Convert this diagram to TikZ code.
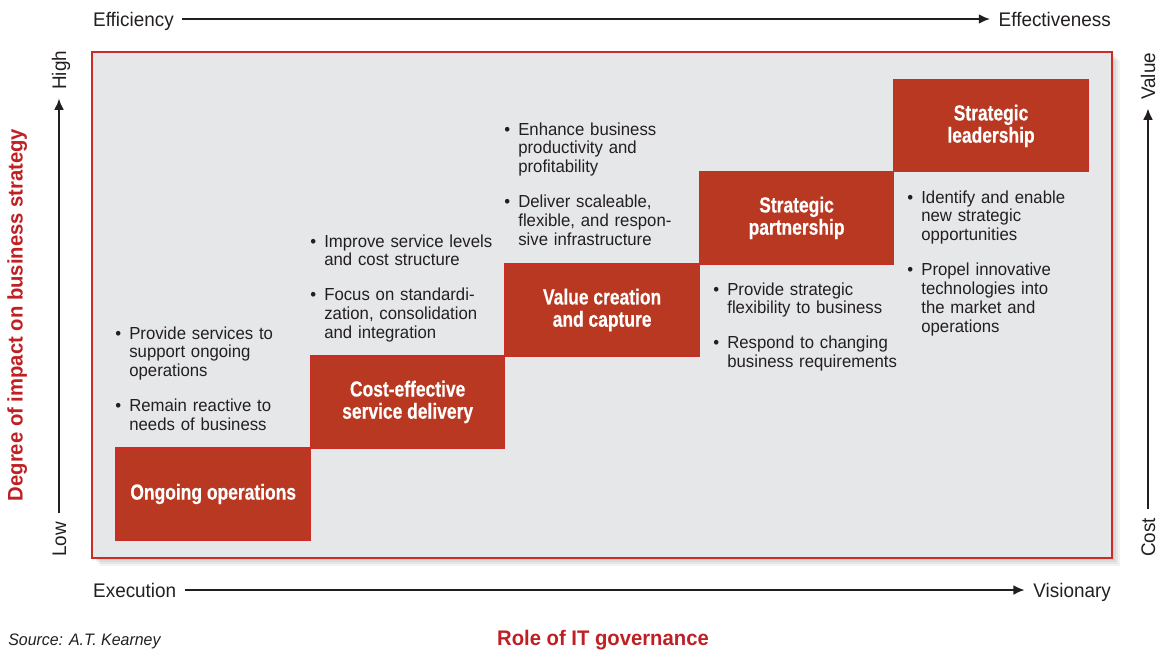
\documentclass[tikz,border=0pt]{standalone}
\usepackage{fontspec}
\setmainfont{Liberation Sans}[FakeStretch=0.96]
\newfontfamily\stepfont{Liberation Sans}[FakeStretch=0.8, BoldFeatures={FakeBold=0.35}]
\usetikzlibrary{positioning,arrows.meta}

\definecolor{stepred}{RGB}{185,56,33}
\definecolor{edgered}{RGB}{204,44,40}
\definecolor{framegray}{RGB}{230,231,233}
\definecolor{inkgray}{RGB}{35,31,32}
\definecolor{titlered}{RGB}{190,32,36}

\newcommand{\bpoint}[1]{\par\noindent\hangindent=10pt\hangafter=1\makebox[10pt][l]{\textbullet}#1\par}

\tikzset{
  stepbox/.style={fill=stepred, draw=edgered, line width=0.8pt, minimum width=4.86cm, minimum height=2.3cm,
    inner sep=0pt, outer sep=0pt, text=white, align=center, font=\stepfont\bfseries\fontsize{15.5}{15.8}\selectfont},
  notes/.style={anchor=north west, inner sep=0pt, text width=5cm, align=left, text=inkgray,
    font=\fontsize{12.4}{13.4}\selectfont},
  axislabel/.style={inner xsep=6pt, inner ysep=0pt, text height=10pt, text depth=0pt, text=inkgray,
    font=\fontsize{14}{16}\selectfont},
  axisline/.style={-{Latex[length=8pt,width=7pt]}, line width=1.4pt, draw=inkgray},
  titlelabel/.style={inner sep=0pt, text height=10.7pt, text depth=0pt, text=titlered,
    font=\bfseries\fontsize{15}{17}\selectfont},
}

\begin{document}
\begin{tikzpicture}[x=0.025cm,y=-0.025cm]
\useasboundingbox (0,0) rectangle (1164,654);

% frame with soft shadow
\foreach \s in {2,4,6,8}
  \fill[black,opacity=0.05] (92+\s,52+\s) rectangle (1112+\s,558+\s);
\draw[edgered,fill=framegray,line width=1pt] (92,52) rectangle (1112,558);

% steps
\node[stepbox,anchor=south west] (ongoing) at (116,540) {Ongoing operations};
\node[stepbox,anchor=south west] (costeff) at (ongoing.north east) {Cost-effective\\service delivery};
\node[stepbox,anchor=south west] (valuecap) at (costeff.north east) {Value creation\\and capture};
\node[stepbox,anchor=south west] (partner) at (valuecap.north east) {Strategic\\partnership};
\node[stepbox,anchor=south west] (leader) at (partner.north east) {Strategic\\leadership};

% bullet notes
\node[notes] (ongoingnotes) at (115,320) {%
  \bpoint{Provide services to\newline support ongoing\newline operations}\vspace{11.4pt}%
  \bpoint{Remain reactive to\newline needs of business}};
\node[notes] (costeffnotes) at (310,228) {%
  \bpoint{Improve service levels\newline and cost structure}\vspace{11.4pt}%
  \bpoint{Focus on standardi-\newline zation, consolidation\newline and integration}};
\node[notes] (valuecapnotes) at (504,116) {%
  \bpoint{Enhance business\newline productivity and\newline profitability}\vspace{11.4pt}%
  \bpoint{Deliver scaleable,\newline flexible, and respon-\newline sive infrastructure}};
\node[notes] (partnernotes) at (713,276) {%
  \bpoint{Provide strategic\newline flexibility to business}\vspace{11.4pt}%
  \bpoint{Respond to changing\newline business requirements}};
\node[notes] (leadernotes) at (907,184) {%
  \bpoint{Identify and enable\newline new strategic\newline opportunities}\vspace{11.4pt}%
  \bpoint{Propel innovative\newline technologies into\newline the market and\newline operations}};

% axes
\node[axislabel,anchor=west] (eff) at (84.5,19) {Efficiency};
\node[axislabel,anchor=east] (effv) at (1119.5,19) {Effectiveness};
\draw[axisline] (eff) -- (effv);
\node[axislabel,anchor=west] (exec) at (84.5,590) {Execution};
\node[axislabel,anchor=east] (vision) at (1119.5,590) {Visionary};
\draw[axisline] (exec) -- (vision);
\node[axislabel,rotate=90,anchor=west] (low) at (59,565.5) {Low};
\node[axislabel,rotate=90,anchor=west] (high) at (59,98.5) {High};
\draw[axisline] (low) -- (high);
\node[axislabel,rotate=90,anchor=west] (cost) at (1148,565.5) {Cost};
\node[axislabel,rotate=90,anchor=west] (value) at (1148,108.5) {Value};
\draw[axisline] (cost) -- (value);

% titles
\node[titlelabel,rotate=90] (degree) at (15,315) {Degree of impact on business strategy};
\node[titlelabel] (role) at (603,638) {Role of IT governance};
\node[axislabel,anchor=west,inner xsep=0pt,font=\itshape\fontsize{11.8}{14}\selectfont,text height=8.5pt]
  (source) at (8,640) {Source: A.T. Kearney};

\end{tikzpicture}
\end{document}
